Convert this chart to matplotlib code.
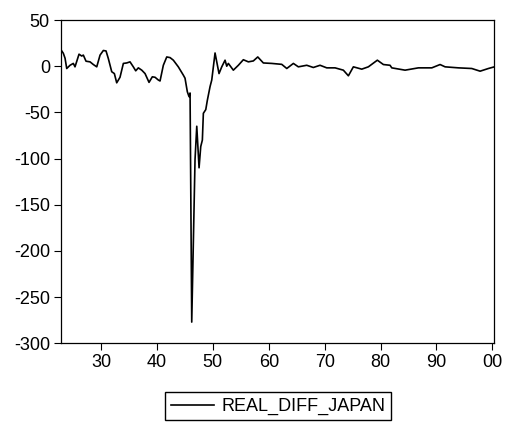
import matplotlib
matplotlib.use("Agg")
import matplotlib.pyplot as plt

plt.rcParams["font.family"] = ["Liberation Sans", "DejaVu Sans"]
plt.rcParams["axes.unicode_minus"] = False

# years (19xx) and values
years = [22.97, 23.25, 23.56, 23.86, 24.45, 25.04, 25.34, 26.06, 26.54, 26.83,
         27.31, 28.03, 28.62, 29.23, 29.82, 30.41, 30.89, 31.30, 31.91, 32.38,
         32.80, 33.39, 33.99, 34.59, 35.18, 35.77, 36.20, 36.67, 37.28, 37.87,
         38.58, 39.17, 39.66, 40.25, 40.55, 41.14, 41.75, 42.34, 42.93, 43.82,
         44.72, 45.02, 45.43, 45.74, 45.92, 46.22, 46.81, 47.12, 47.53, 47.83,
         48.12, 48.30, 48.73, 49.01, 49.50, 49.80, 50.39, 51.10, 51.59, 52.18,
         52.48, 52.77, 53.66, 54.56, 55.45, 56.35, 57.24, 58.03, 59.03, 60.53,
         62.32, 63.22, 64.40, 65.29, 66.79, 67.97, 69.17, 70.37, 71.86, 73.34,
         74.24, 75.13, 76.63, 77.81, 79.42, 80.50, 81.69, 82.00, 84.38, 86.76,
         89.16, 90.64, 91.54, 93.92, 96.31, 97.80, 99.28, 100.35]
real_diff_japan = [16.5, 14, 8.6, -2.5, 1, 3, -0.7, 13, 11, 12,
                   5.4, 4.7, 1.8, -0.7, 12, 17, 16.5, 8.3, -6, -8,
                   -18, -12, 3, 3.5, 4.7, -0.7, -5, -1.8, -4.3, -8,
                   -17.5, -11.5, -12, -15, -16, 1, 10, 9.3, 6.5, -0.7,
                   -9.7, -13, -27.6, -33, -29, -277, -101, -65, -110, -87,
                   -80, -51, -47, -37, -22, -15, 14.3, -8, -0.7, 6.5,
                   0, 3, -4.3, 1, 7, 4.7, 5.7, 10, 3.5, 3,
                   2, -2.5, 3, -0.7, 1, -1.4, 1, -1.8, -1.8, -4.3,
                   -10.4, -0.7, -3.2, -0.7, 6.5, 1.8, 1, -1.8, -4.3, -1.8,
                   -1.8, 1.8, -0.7, -1.8, -2.5, -5.4, -2.5, -0.7]

x_ticks = [30, 40, 50, 60, 70, 80, 90, 100]
x_labels = ["30", "40", "50", "60", "70", "80", "90", "00"]
y_ticks = [50, 0, -50, -100, -150, -200, -250, -300]

fig = plt.figure(figsize=(5.06, 4.23), dpi=100)
ax = fig.add_axes([0.1206, 0.1884, 0.977 - 0.1206, 0.9527 - 0.1884])

line, = ax.plot(years, real_diff_japan, color="black", lw=1.2, label="REAL_DIFF_JAPAN")

ax.set_xlim(22.84, 100.35)
ax.set_ylim(-300, 50)
ax.set_xticks(x_ticks)
ax.set_xticklabels(x_labels)
ax.set_yticks(y_ticks)
ax.tick_params(direction="out", length=5, width=0.8, labelsize=13, colors="black", pad=3)
for s in ax.spines.values():
    s.set_linewidth(0.9)

fig.legend(handles=[line], loc="lower center", bbox_to_anchor=(278 / 506, 0.006),
           frameon=True, fancybox=False, edgecolor="black", fontsize=13,
           handlelength=2.4, handletextpad=0.4, borderpad=0.3, borderaxespad=0,
           framealpha=1)

plt.savefig("out.png", dpi=100)
